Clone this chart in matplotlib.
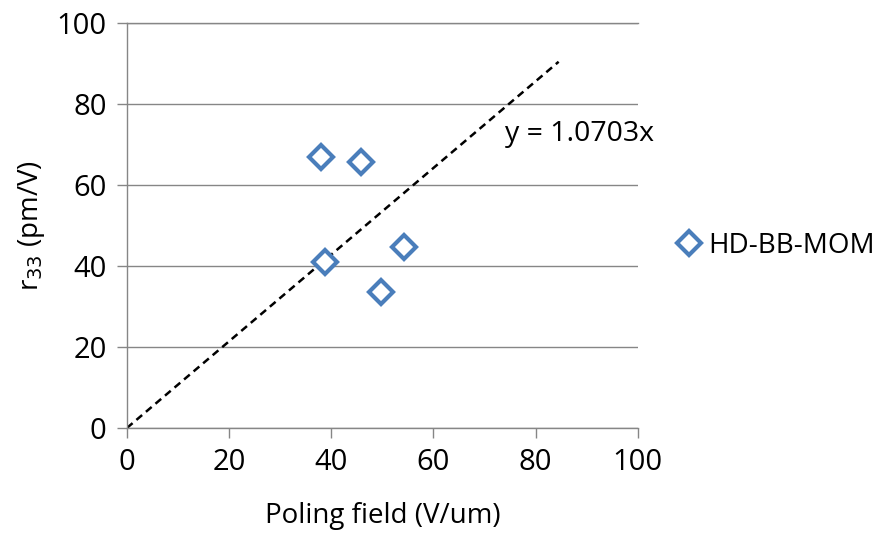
import matplotlib
matplotlib.use("Agg")
import matplotlib.pyplot as plt
import numpy as np

# Measured electro-optic coefficient vs. poling field
poling_field = [38.0, 45.8, 38.7, 54.2, 49.7]
r33 = [67.0, 65.8, 41.0, 44.7, 33.6]
series_name = "HD-BB-MOM"

# Linear fit through origin
slope = 1.0703
fit_x = [0.0, 84.5]
fit_label = "y = 1.0703x"

x_ticks = [0, 20, 40, 60, 80, 100]
y_ticks = [0, 20, 40, 60, 80, 100]

plt.rcParams['font.family'] = ['Open Sans', 'DejaVu Sans']

blue = "#4A7EBB"
grid_gray = "#868686"

fig = plt.figure(figsize=(8.81, 5.36), dpi=100)
ax = fig.add_axes([0.144, 0.2015, 0.58, 0.7555])

ax.set_xlim(0, 100)
ax.set_ylim(0, 100)
ax.set_xticks(x_ticks)
ax.set_yticks(y_ticks)

ax.yaxis.grid(True, color=grid_gray, linewidth=1.0)
ax.set_axisbelow(True)
for side in ("top", "right"):
    ax.spines[side].set_visible(False)
for side in ("left", "bottom"):
    ax.spines[side].set_color(grid_gray)
    ax.spines[side].set_linewidth(1.0)
ax.tick_params(axis="both", direction="out", length=7.5, width=1.0,
               color=grid_gray, labelsize=21, labelcolor="#000000", pad=7)

# top gridline acts as frame at y=100
ax.axhline(100, color=grid_gray, linewidth=1.0, clip_on=False)

fit_y = [slope * v for v in fit_x]
ax.plot(fit_x, fit_y, color="black", linewidth=1.8, linestyle=(0, (3, 2)))

ax.plot(poling_field, r33, linestyle="none", marker="D", markersize=12,
        markerfacecolor="white", markeredgecolor=blue, markeredgewidth=3.0,
        label=series_name, clip_on=False)

ax.text(74.0, 72.5, fit_label, fontsize=20.5, ha="left", va="center")

ax.set_xlabel("Poling field (V/um)", fontsize=20, labelpad=18)
ax.set_ylabel("r$_{33}$ (pm/V)", fontsize=20, labelpad=7)

leg = ax.legend(loc="center left", bbox_to_anchor=(1.03, 0.45), frameon=False,
                fontsize=20, handlelength=0.8, handletextpad=0.3, markerscale=1.0)

fig.savefig("out.png", dpi=100)
